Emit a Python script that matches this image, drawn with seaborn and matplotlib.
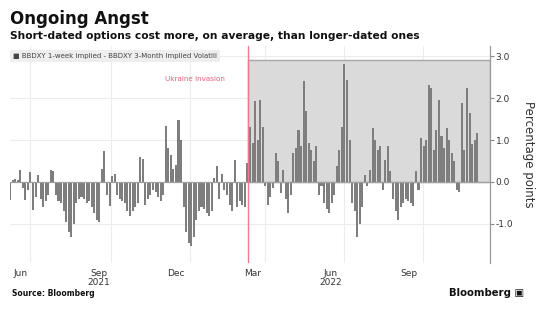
import matplotlib
matplotlib.use("Agg")
import matplotlib.pyplot as plt
import matplotlib.dates as mdates
from matplotlib.patches import Rectangle
import seaborn as sns
import pandas as pd
import numpy as np

# ---- data (one bar per 3 calendar days) ----
start_date = "2021-05-20"
step_days = 3
values = [
    -0.42, 0.05, 0.07, 0.05, 0.29, -0.15, -0.42, -0.20, 0.24, -0.66,
    -0.35, 0.17, -0.40, -0.60, -0.45, -0.30, 0.28, 0.25, -0.30, -0.45,
    -0.50, -0.70, -0.95, -1.20, -1.32, -1.00, -0.50, -0.40, -0.35, -0.40,
    -0.50, -0.45, -0.60, -0.75, -0.90, -0.95, 0.30, 0.73, -0.30, -0.58,
    0.15, 0.20, -0.30, -0.40, -0.45, -0.50, -0.70, -0.80, -0.70, -0.60,
    -0.50, 0.60, 0.55, -0.55, -0.40, -0.30, -0.20, -0.25, -0.35, -0.45,
    -0.30, 1.33, 0.80, 0.65, 0.30, 0.40, 1.48, 1.00, -0.60, -1.20,
    -1.45, -1.53, -1.30, -0.90, -0.70, -0.60, -0.65, -0.75, -0.80, -0.70,
    0.10, 0.37, -0.40, 0.18, -0.20, -0.30, -0.55, -0.70, 0.53, -0.60,
    -0.45, -0.55, -0.60,
    0.45, 1.32, 0.93, 1.92, 1.00, 1.95, 1.30, -0.10, -0.54, -0.35,
    -0.15, 0.69, 0.50, -0.26, 0.29, -0.40, -0.74, -0.30, 0.70, 0.80,
    1.25, 0.85, 2.40, 1.70, 0.93, 0.77, 0.50, 0.85, -0.30, -0.10,
    -0.50, -0.65, -0.74, -0.50, -0.30, 0.37, 0.77, 1.30, 2.80, 2.44,
    1.00, -0.50, -0.70, -1.30, -1.00, -0.60, 0.17, -0.10, 0.29, 1.29,
    1.00, 0.77, 0.85, -0.20, 0.53, 0.85, 0.25, -0.40, -0.70, -0.90,
    -0.60, -0.50, -0.40, -0.45, -0.50, -0.58, 0.25, -0.20, 1.05, 0.85,
    1.00, 2.32, 2.25, 0.77, 1.25, 1.96, 1.10, 0.80, 1.29, 1.00,
    0.70, 0.49, -0.20, -0.25, 1.88, 0.77, 2.24, 1.64, 0.90, 1.00,
    1.17,
]
series_label = "BBDXY 1-week implied - BBDXY 3-Month Implied Volatili"
event_date = "2022-02-24"
event_label = "Ukraine invasion"
shade_top = 2.9
x_start, x_end = "2021-05-20", "2022-12-05"
y_min, y_max = -1.93, 3.24
y_ticks = [-1.0, 0.0, 1.0, 2.0, 3.0]
x_tick_dates = ["2021-06-01", "2021-09-01", "2021-12-01", "2022-03-01", "2022-06-01", "2022-09-01"]
x_tick_labels = ["Jun", "Sep\n2021", "Dec", "Mar", "Jun\n2022", "Sep"]
x_grid_dates = ["2021-06-12", "2021-09-16", "2021-12-17", "2022-03-16", "2022-06-17", "2022-09-17"]

dates = pd.date_range(start_date, periods=len(values), freq=f"{step_days}D")
df = pd.DataFrame({"date": mdates.date2num(dates), "value": values})

# ---- figure ----
sns.set_style("white")
plt.rcParams["font.family"] = ["DejaVu Sans"]
fig = plt.figure(figsize=(5.51, 3.33), dpi=100)
ax = fig.add_axes([10 / 551, 1 - 263 / 333, (490 - 10) / 551, (263 - 46) / 333])

ev = mdates.date2num(pd.Timestamp(event_date))
xe = mdates.date2num(pd.Timestamp(x_end))
xs = mdates.date2num(pd.Timestamp(x_start))

ax.add_patch(Rectangle((ev, 0), xe - ev, shade_top, facecolor="#dadada",
                       edgecolor="#a8a8a8", linewidth=1.0, zorder=0.5))

sns.barplot(data=df, x="date", y="value", native_scale=True, width=0.8,
            color="#7e7e7e", errorbar=None, linewidth=0, saturation=1,
            ax=ax, zorder=2)

ax.axhline(0, color="#a0a0a0", linewidth=0.9, zorder=3)
ax.axvline(ev, color="#f07a8c", linewidth=1.0, zorder=4)
ax.text(ev - 27, 2.45, event_label, color="#e8607a", fontsize=5.2,
        ha="right", va="center", zorder=5)

ax.set_xlim(xs, xe)
ax.set_ylim(y_min, y_max)

for g in x_grid_dates:
    ax.axvline(mdates.date2num(pd.Timestamp(g)), color="#ececec", linewidth=0.8, zorder=0)
for t in y_ticks:
    if t != 0:
        ax.axhline(t, color="#ececec", linewidth=0.8, zorder=0)

ax.set_xticks(mdates.date2num(pd.to_datetime(x_tick_dates)))
ax.set_xticklabels(x_tick_labels, fontsize=6.5, color="#333333", linespacing=1.1)
ax.tick_params(axis="x", length=0, pad=4)

ax.yaxis.tick_right()
ax.set_yticks(y_ticks)
ax.set_yticklabels([f"{t:.1f}" for t in y_ticks], fontsize=6.5, color="#333333")
ax.tick_params(axis="y", length=3, width=0.8, color="#888888", pad=1, direction="out")
ax.yaxis.set_label_position("right")
ax.set_ylabel("Percentage points", rotation=270, fontsize=8.5, color="#333333", labelpad=16)
ax.set_xlabel("")

for s in ["top", "left", "bottom"]:
    ax.spines[s].set_visible(False)
ax.spines["right"].set_color("#999999")
ax.spines["right"].set_linewidth(0.9)

# legend-style label box
fig.text(13 / 551, 1 - 56 / 333, "\u25A0 " + series_label, fontsize=5.0, color="#444444",
         ha="left", va="center",
         bbox=dict(facecolor="#eeeeee", edgecolor="none", boxstyle="square,pad=0.45"))

fig.text(10 / 551, 1 - 19 / 333, "Ongoing Angst", fontsize=12, fontweight="bold",
         color="#111111", ha="left", va="center")
fig.text(10 / 551, 1 - 36 / 333, "Short-dated options cost more, on average, than longer-dated ones",
         fontsize=7.7, fontweight="bold", color="#111111", ha="left", va="center")
fig.text(12 / 551, 1 - 294 / 333, "Source: Bloomberg", fontsize=5.5, fontweight="bold",
         color="#111111", ha="left", va="center")
fig.text(524 / 551, 1 - 293 / 333, "Bloomberg \u25A3", fontsize=7.3, fontweight="bold",
         color="#111111", ha="right", va="center")

fig.savefig("out.png", dpi=100)
